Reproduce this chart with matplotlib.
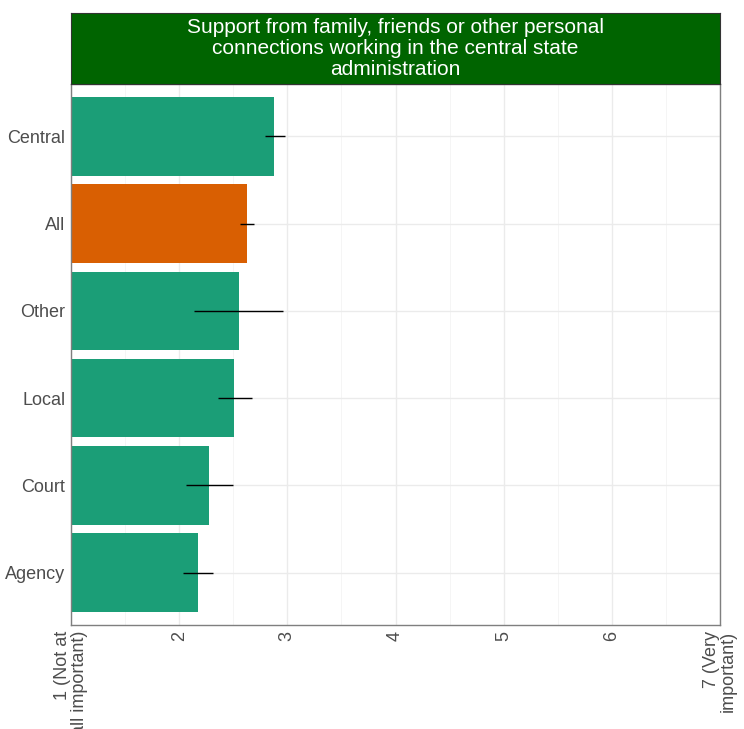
import matplotlib.pyplot as plt
from matplotlib.ticker import MultipleLocator

plt.rcParams['font.family'] = ['Liberation Sans', 'DejaVu Sans']

# data, bottom to top
groups = ["Agency", "Court", "Local", "Other", "All", "Central"]
means = [2.17, 2.28, 2.51, 2.55, 2.63, 2.88]
ci_low = [2.04, 2.06, 2.36, 2.14, 2.56, 2.79]
ci_high = [2.31, 2.50, 2.67, 2.96, 2.69, 2.98]
bar_colors = ["#1B9E77", "#1B9E77", "#1B9E77", "#1B9E77", "#D95F02", "#1B9E77"]
x_ticks = [1, 2, 3, 4, 5, 6, 7]
x_labels = ["1 (Not at\nall important)", "2", "3", "4", "5", "6", "7 (Very\nimportant)"]
title = "Support from family, friends or other personal\nconnections working in the central state\nadministration"

fig = plt.figure(figsize=(7.44, 7.29), dpi=100)
ax = fig.add_axes([71 / 744, 1 - 625 / 729, 649 / 744, 541 / 729])

ypos = list(range(len(groups)))
ax.barh(ypos, [m - 1 for m in means], left=1, height=0.9, color=bar_colors, zorder=2)
ax.hlines(ypos, ci_low, ci_high, color="black", linewidth=1, zorder=3)

ax.set_xlim(1, 7)
ax.set_ylim(-0.6, len(groups) - 0.4)
ax.set_xticks(x_ticks)
ax.set_xticklabels(x_labels, rotation=90, ha="center", va="top", multialignment="right",
                   linespacing=0.95)
ax.xaxis.set_minor_locator(MultipleLocator(0.5))
ax.set_yticks(ypos)
ax.set_yticklabels(groups)
ax.tick_params(axis="both", which="both", length=0, labelsize=13, colors="#4D4D4D", pad=4)
ax.grid(True, which="major", color="#EBEBEB", linewidth=1, zorder=0)
ax.grid(True, which="minor", axis="x", color="#F4F4F4", linewidth=0.6, zorder=0)
ax.set_axisbelow(True)
for s in ax.spines.values():
    s.set_color("#7F7F7F")
    s.set_linewidth(1)

# title strip
strip = fig.add_axes([71 / 744, 1 - 84 / 729, 649 / 744, 71 / 729])
strip.set_facecolor("#006400")
strip.set_xticks([])
strip.set_yticks([])
for s in strip.spines.values():
    s.set_color("#333333")
strip.text(0.5, 0.5, title, color="white", fontsize=15, ha="center", va="center",
           linespacing=1.12, transform=strip.transAxes)

fig.savefig("out.png", dpi=100)
